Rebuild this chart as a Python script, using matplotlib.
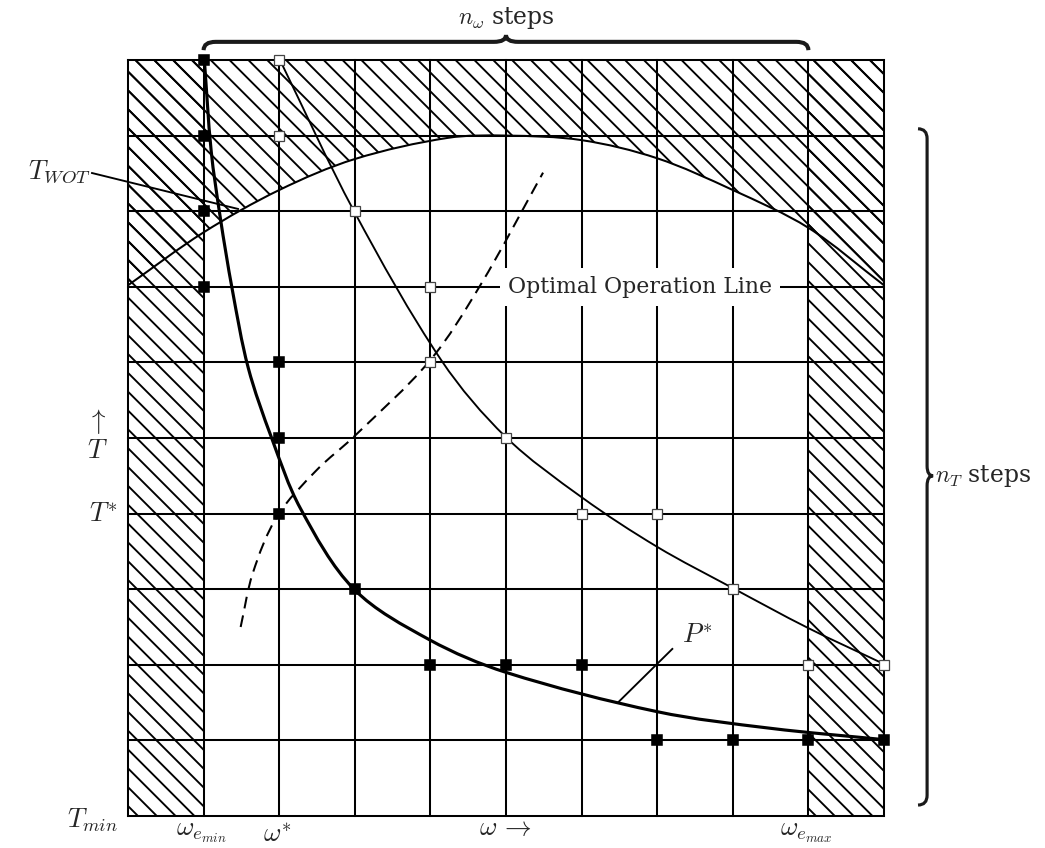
import matplotlib
matplotlib.use("Agg")
import matplotlib.pyplot as plt
from matplotlib.path import Path
from matplotlib.patches import PathPatch

plt.rcParams["mathtext.fontset"] = "cm"
plt.rcParams["font.family"] = ["DejaVu Serif"]
plt.rcParams["hatch.linewidth"] = 1.2
plt.rcParams["hatch.color"] = "black"

# grid of n_omega x n_T cells
n_omega = 10
n_T = 10
omega_e_min = 1
omega_e_max = 9

# T_WOT limit curve (grid units)
wot_omega = [0, 1, 2, 3, 4.23, 5, 6, 7, 8, 9, 10]
wot_T = [7.02, 7.72, 8.28, 8.69, 8.97, 9.0, 8.94, 8.70, 8.28, 7.78, 7.02]

# constant power curve P*
p_omega = [1.01, 1.10, 1.22, 1.38, 1.59, 1.90, 2.28, 2.99, 3.99, 5.0, 7.0, 8.5, 10.0]
p_T = [10.0, 8.8, 7.92, 6.96, 5.93, 5.0, 4.07, 3.0, 2.33, 1.90, 1.38, 1.16, 1.01]

# thin curve through the open squares
thin_omega = [2.01, 2.99, 4.15, 5.0, 6.01, 7.0, 7.99, 8.99, 10.0]
thin_T = [10.0, 8.0, 6.02, 5.01, 4.21, 3.56, 3.02, 2.49, 2.01]

# optimal operation line (dashed)
opt_omega = [1.49, 1.65, 1.97, 2.50, 2.98, 3.99, 4.66, 5.49]
opt_T = [2.50, 3.21, 3.96, 4.58, 5.01, 6.02, 7.02, 8.51]

# grid nodes
filled_omega = [1, 1, 1, 1, 2, 2, 2, 3, 4, 5, 6, 7, 8, 9, 10]
filled_T = [10, 9, 8, 7, 6, 5, 4, 3, 2, 2, 2, 1, 1, 1, 1]
open_omega = [2, 2, 3, 4, 4, 5, 6, 7, 8, 9, 10]
open_T = [10, 9, 8, 7, 6, 5, 4, 4, 3, 2, 2]

txt = "#262626"


def smooth(xs, ys):
    """Chord-length Catmull-Rom spline through the points, as Bezier pieces."""
    pts = list(zip(xs, ys))
    n = len(pts)
    d = [((pts[i + 1][0] - pts[i][0]) ** 2 + (pts[i + 1][1] - pts[i][1]) ** 2) ** 0.5
         for i in range(n - 1)]
    tan = []
    for i in range(n):
        if i == 0:
            a, b, s = pts[0], pts[1], d[0]
        elif i == n - 1:
            a, b, s = pts[-2], pts[-1], d[-1]
        else:
            a, b, s = pts[i - 1], pts[i + 1], d[i - 1] + d[i]
        tan.append(((b[0] - a[0]) / s, (b[1] - a[1]) / s))
    verts = [pts[0]]
    codes = [Path.MOVETO]
    for i in range(n - 1):
        p1, p2, h = pts[i], pts[i + 1], d[i] / 3
        verts += [(p1[0] + tan[i][0] * h, p1[1] + tan[i][1] * h),
                  (p2[0] - tan[i + 1][0] * h, p2[1] - tan[i + 1][1] * h), p2]
        codes += [Path.CURVE4] * 3
    return verts, codes


def curve(xs, ys, **kw):
    v, c = smooth(xs, ys)
    ax.add_patch(PathPatch(Path(v, c), facecolor="none", **kw))


fig = plt.figure(figsize=(1045 / 113, 848 / 113), dpi=113)
ax = fig.add_axes([128 / 1045, 32 / 848, 756 / 1045, 756 / 848])
ax.set_xlim(0, n_omega)
ax.set_ylim(0, n_T)
ax.axis("off")

# hatched (infeasible) regions
ax.fill_between([0, omega_e_min], 0, n_T, facecolor="none", edgecolor="black",
                hatch="\\\\", linewidth=0)
ax.fill_between([omega_e_max, n_omega], 0, n_T, facecolor="none", edgecolor="black",
                hatch="\\\\", linewidth=0)
v, c = smooth(wot_omega, wot_T)
v = v + [(n_omega, n_T), (0, n_T), v[0]]
c = c + [Path.LINETO, Path.LINETO, Path.CLOSEPOLY]
ax.add_patch(PathPatch(Path(v, c), facecolor="none", edgecolor="black",
                       hatch="\\\\", lw=0))

# grid
for k in range(n_omega + 1):
    ax.plot([k, k], [0, n_T], color="black", lw=1.3, clip_on=False, zorder=2)
for k in range(n_T + 1):
    ax.plot([0, n_omega], [k, k], color="black", lw=1.3, clip_on=False, zorder=2)

curve(wot_omega, wot_T, edgecolor="black", lw=1.3, zorder=3)
curve(thin_omega, thin_T, edgecolor="black", lw=1.2, zorder=3, clip_on=False)
curve(p_omega, p_T, edgecolor="black", lw=2.0, zorder=3, clip_on=False)
curve(opt_omega, opt_T, edgecolor="black", lw=1.3, zorder=3, linestyle=(0, (5.8, 3.5)))

ax.plot(filled_omega, filled_T, ls="none", marker="s", ms=6, color="black",
        zorder=5, clip_on=False)
ax.plot(open_omega, open_T, ls="none", marker="s", ms=6, mfc="white",
        mec="#444444", mew=0.8, zorder=5, clip_on=False)

# labels
ax.text(6.77, 7.0, "Optimal Operation Line", fontsize=14, color=txt,
        ha="center", va="center", zorder=4,
        bbox=dict(facecolor="white", edgecolor="none", pad=5))

ax.text(-0.50, 8.52, r"$T_{WOT}$", fontsize=17, color=txt, ha="right", va="center")
ax.plot([-0.476, 1.455], [8.505, 8.03], color="black", lw=1.2, clip_on=False, zorder=3)

ax.text(-0.41, 5.22, r"$\uparrow$", fontsize=17, color=txt, ha="center", va="center")
ax.text(-0.41, 4.83, r"$T$", fontsize=17, color=txt, ha="center", va="center")
ax.text(-0.13, 3.89, r"$T^{*}$", fontsize=17, color=txt, ha="right", va="baseline")
ax.text(-0.13, -0.15, r"$T_{min}$", fontsize=17, color=txt, ha="right", va="baseline")

ax.text(0.97, -0.25, r"$\omega_{e_{min}}$", fontsize=17, color=txt, ha="center", va="baseline")
ax.text(1.97, -0.34, r"$\omega^{*}$", fontsize=17, color=txt, ha="center", va="baseline")
ax.text(4.99, -0.25, r"$\omega\,\rightarrow$", fontsize=17, color=txt, ha="center", va="baseline")
ax.text(8.97, -0.26, r"$\omega_{e_{max}}$", fontsize=17, color=txt, ha="center", va="baseline")

ax.text(7.33, 2.29, r"$P^{*}$", fontsize=17, color=txt, ha="left", va="baseline")
ax.plot([7.20, 6.49], [2.21, 1.51], color="black", lw=1.2, zorder=3)

ax.text(5.0, 10.48, r"$n_{\omega}$ steps", fontsize=15, color=txt, ha="center", va="baseline")
ax.text(10.67, 4.42, r"$n_{T}$ steps", fontsize=15, color=txt, ha="left", va="baseline")


def brace(s0, s1, nb, ne, nt, st, r, vertical, lw):
    pts = [(s0, ne), (s0, nb), (s0 + r, nb), (st - r, nb),
           (st, nb), (st, nt), (st, nb), (st + r, nb),
           (s1 - r, nb), (s1, nb), (s1, ne)]
    codes = [Path.MOVETO, Path.CURVE3, Path.CURVE3, Path.LINETO,
             Path.CURVE3, Path.CURVE3, Path.CURVE3, Path.CURVE3,
             Path.LINETO, Path.CURVE3, Path.CURVE3]
    if vertical:
        pts = [(n, s) for s, n in pts]
    patch = PathPatch(Path(pts, codes), facecolor="none", edgecolor="#1a1a1a",
                      lw=lw, clip_on=False, capstyle="butt")
    ax.add_patch(patch)


brace(1.0, 9.0, 10.24, 10.13, 10.33, 5.0, 0.16, False, 2.6)
brace(0.145, 9.09, 10.57, 10.45, 10.65, 4.5, 0.13, True, 2.0)

fig.savefig("out.png", dpi=113)
